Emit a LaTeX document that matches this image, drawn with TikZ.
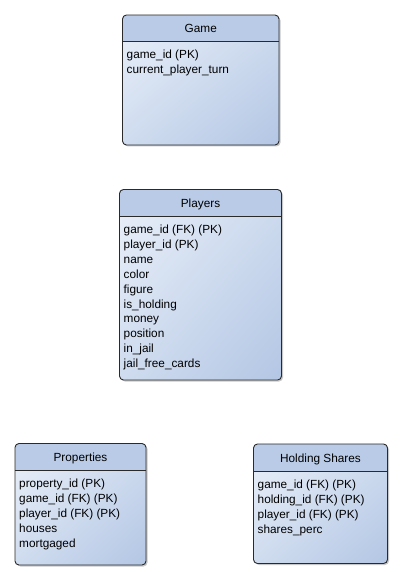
\documentclass[tikz,border=0pt]{standalone}
\usepackage{fontspec}
\setmainfont{Liberation Sans}
\usetikzlibrary{shadings}
\definecolor{headc}{HTML}{B9CBE7}
\definecolor{bodyl}{HTML}{EAF0F9}
\definecolor{bodym}{HTML}{CFDCEF}
\definecolor{bodyd}{HTML}{B3C6E4}
\definecolor{borderc}{HTML}{2A2A2A}
\definecolor{shadowc}{HTML}{C8C8C8}
\tikzset{
  border/.style={draw=borderc, line width=0.9pt},
  title/.style={font=\fontsize{11.8}{14}\selectfont, inner sep=0pt, anchor=base},
  row/.style={font=\fontsize{11.8}{14}\selectfont, inner sep=0pt, anchor=base west},
}
\newcommand\entity[8]{%
  \fill[shadowc, rounded corners=4] (#2+1.5,#3+1.5) rectangle (#4+1.5,#5+1.5);
  \shade[upper left=bodyl, lower right=bodyd, upper right=bodym, lower left=bodym, rounded corners=4] (#2,#3) rectangle (#4,#5);
  \begin{scope}
    \clip[rounded corners=4] (#2,#3) rectangle (#4,#5);
    \fill[headc] (#2,#3) rectangle (#4,#6);
  \end{scope}
  \draw[border, rounded corners=4] (#2,#3) rectangle (#4,#5);
  \draw[border] (#2,#6) -- (#4,#6);
  \node[title] (#1-t) at ({(#2+#4)/2},{(#3+#6)/2+4.5}) {#7};
  \foreach \r [count=\i] in {#8}
    \node[row] (#1-r\i) at (#2+4, {#6+16.8+(\i-1)*14.9}) {\r};
}
\begin{document}
\begin{tikzpicture}[x=1pt,y=-1pt]
\useasboundingbox[fill=white] (0,0) rectangle (402,572);
\entity{game}{122.5}{15}{279}{145}{41.7}{Game}{game\_id (PK),current\_player\_turn}
\entity{players}{119.5}{189.5}{281.5}{380}{216.7}{Players}{game\_id (FK) (PK),player\_id (PK),name,color,figure,is\_holding,money,position,in\_jail,jail\_free\_cards}
\entity{properties}{15}{443.5}{146}{565}{470.7}{Properties}{property\_id (PK),game\_id (FK) (PK),player\_id (FK) (PK),houses,mortgaged}
\entity{shares}{253.5}{444}{387.5}{563.5}{471.7}{Holding Shares}{game\_id (FK) (PK),holding\_id (FK) (PK),player\_id (FK) (PK),shares\_perc}
\end{tikzpicture}
\end{document}
